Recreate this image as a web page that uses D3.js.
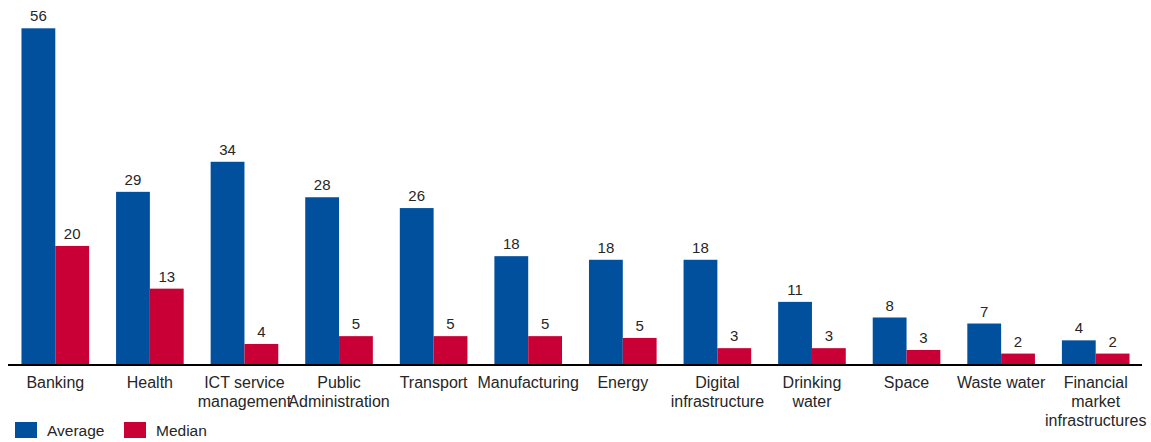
<!DOCTYPE html>
<html>
<head>
<meta charset="utf-8">
<script src="https://cdn.jsdelivr.net/npm/d3@7"></script>
<style>
  body { margin: 0; background: #fff; }
  text { font-family: "Liberation Sans", Arial, sans-serif; fill: #262626; }
</style>
</head>
<body>
<svg id="chart" width="1151" height="442"></svg>
<script>
// data (labels shown rounded)
const categories = ["Banking", "Health", "ICT service\nmanagement", "Public\nAdministration",
  "Transport", "Manufacturing", "Energy", "Digital\ninfrastructure", "Drinking\nwater",
  "Space", "Waste water", "Financial\nmarket\ninfrastructures"];
const average = [56, 28.8, 33.8, 27.9, 26.1, 18.1, 17.5, 17.5, 10.5, 7.9, 6.9, 4.1];
const median = [19.8, 12.7, 3.5, 4.8, 4.8, 4.8, 4.5, 2.8, 2.8, 2.5, 1.9, 1.9];
const seriesNames = ["Average", "Median"];
const colors = ["#00509e", "#c80036"];

const svg = d3.select("#chart");
const baseY = 365;

const x = d3.scaleBand()
  .domain(categories)
  .range([8, 1143])
  .paddingInner(0.285)
  .paddingOuter(0.1425);

const xs = d3.scaleBand()
  .domain(seriesNames)
  .range([0, x.bandwidth()]);

const y = d3.scaleLinear()
  .domain([0, 56])
  .range([baseY, 28.3]);

const rows = categories.map((c, i) => ({cat: c, vals: [average[i], median[i]]}));

const groups = svg.selectAll("g.grp")
  .data(rows)
  .join("g")
  .attr("class", "grp")
  .attr("transform", d => `translate(${x(d.cat)},0)`);

groups.selectAll("rect")
  .data(d => d.vals.map((v, j) => ({key: seriesNames[j], v: v, j: j})))
  .join("rect")
  .attr("x", d => xs(d.key))
  .attr("width", xs.bandwidth())
  .attr("y", d => y(d.v))
  .attr("height", d => baseY - y(d.v))
  .attr("fill", d => colors[d.j]);

groups.selectAll("text.val")
  .data(d => d.vals.map((v, j) => ({key: seriesNames[j], v: v})))
  .join("text")
  .attr("class", "val")
  .attr("x", d => xs(d.key) + xs.bandwidth() / 2)
  .attr("y", d => y(d.v) - 7)
  .attr("text-anchor", "middle")
  .style("font-size", "15px")
  .text(d => Math.round(d.v));

// axis baseline
const xAxis = d3.axisBottom(x).tickSize(0).tickFormat("");
const axisG = svg.append("g")
  .attr("transform", `translate(0,${baseY})`)
  .call(xAxis);
axisG.select(".domain").attr("stroke", "#000").attr("stroke-width", 2)
  .attr("d", "M8,0H1142");

// category labels, broken over lines
categories.forEach(c => {
  const t = svg.append("text")
    .attr("text-anchor", "middle")
    .attr("x", x(c) + x.bandwidth() / 2)
    .attr("y", 388)
    .style("font-size", "16px");
  c.split("\n").forEach((line, k) => {
    t.append("tspan")
      .attr("x", x(c) + x.bandwidth() / 2)
      .attr("y", 388 + k * 19.2)
      .text(line);
  });
});

// legend
const legX = [15, 124];
seriesNames.forEach((name, i) => {
  svg.append("rect")
    .attr("x", legX[i]).attr("y", 422)
    .attr("width", 22).attr("height", 16)
    .attr("fill", colors[i]);
  svg.append("text")
    .attr("x", legX[i] + 32).attr("y", 435.5)
    .style("font-size", "15.5px")
    .text(name);
});
</script>
</body>
</html>
